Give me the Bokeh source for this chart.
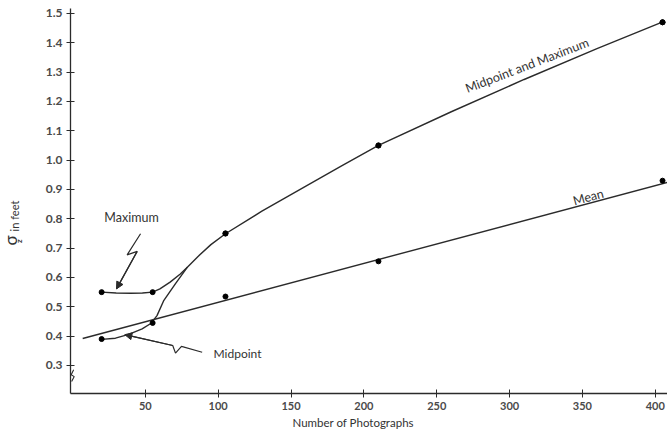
import math
from bokeh.plotting import figure
from bokeh.layouts import row
from bokeh.models import Range1d, Label, Arrow, NormalHead, FixedTicker, CustomJSTickFormatter, Title
from bokeh.core.properties import value
from bokeh.embed import file_html
from bokeh.resources import INLINE

# Measured points
photos = [20, 55, 105, 210, 405]
maximum = [0.55, 0.55, 0.75, 1.05, 1.47]
midpoint = [0.39, 0.445, 0.75, 1.05, 1.47]
mean_photos = [105, 210, 405]
mean_vals = [0.535, 0.655, 0.93]

# Curves
max_curve_x = [20, 30, 40, 48, 55, 60, 67, 74, 79, 86, 95, 105, 130, 159, 185, 210, 260, 310, 360, 406]
max_curve_y = [0.55, 0.547, 0.546, 0.547, 0.55, 0.561, 0.584, 0.612, 0.636, 0.671, 0.712, 0.749,
               0.826, 0.908, 0.981, 1.05, 1.165, 1.275, 1.38, 1.473]
mid_curve_x = [20, 29.5, 38.6, 47.8, 54, 58, 62.5, 70.7, 79]
mid_curve_y = [0.389, 0.393, 0.406, 0.425, 0.444, 0.47, 0.52, 0.579, 0.636]
mean_line_x = [7, 409]
mean_line_y = [0.392, 0.925]

x_ticks = [50, 100, 150, 200, 250, 300, 350, 400]
y_ticks = [0.3, 0.4, 0.5, 0.6, 0.7, 0.8, 0.9, 1.0, 1.1, 1.2, 1.3, 1.4, 1.5]

INK = "#2b2b2b"
FONT = "Lato"
H = 432
TOP = 8
BOTTOM = 39
YR = Range1d(0.2044, 1.517)

p = figure(width=627, height=H, output_backend="svg", toolbar_location=None,
           x_range=Range1d(-1.37, 408.4), y_range=YR,
           min_border_left=30, min_border_right=0, min_border_top=TOP, min_border_bottom=BOTTOM)
p.outline_line_color = None
p.xgrid.grid_line_color = None
p.ygrid.grid_line_color = None

for ax in (p.xaxis[0], p.yaxis[0]):
    ax.axis_line_color = INK
    ax.axis_line_width = 1.3
    ax.major_tick_line_color = INK
    ax.major_tick_in = 4
    ax.major_tick_out = 4
    ax.minor_tick_line_color = None
    ax.major_label_text_color = "#4a4a4a"
    ax.major_label_text_font = FONT
    ax.major_label_text_font_style = "bold"

p.xaxis.ticker = FixedTicker(ticks=x_ticks)
p.yaxis.ticker = FixedTicker(ticks=y_ticks)
p.yaxis.formatter = CustomJSTickFormatter(code="return tick.toFixed(1);")
p.xaxis.major_label_text_font_size = "11px"
p.yaxis.major_label_text_font_size = "12px"
p.xaxis.major_label_standoff = 4
p.yaxis.major_label_standoff = 4

# x axis title (sits left of centre in the original)
p.add_layout(Title(text="Number of Photographs", align="left", offset=222, standoff=2,
                   text_font=FONT, text_font_size="11.5px", text_font_style="normal",
                   text_color="#333333"), "below")

# curves
p.line(max_curve_x, max_curve_y, line_color=INK, line_width=1.4)
p.line(mid_curve_x, mid_curve_y, line_color=INK, line_width=1.4)
p.line(mean_line_x, mean_line_y, line_color=INK, line_width=1.4)

# points
p.scatter(photos, maximum, size=5, color="black")
p.scatter(photos, midpoint, size=5, color="black")
p.scatter(mean_photos, mean_vals, size=5, color="black")

# annotation arrows (zig-zag leaders)
max_arrow_x = [46.7, 37.5, 44.4, 30.2]
max_arrow_y = [0.749, 0.677, 0.689, 0.561]
p.line(max_arrow_x, max_arrow_y, line_color=INK, line_width=1.2)
p.add_layout(Arrow(end=NormalHead(size=7, fill_color=INK, line_color=INK),
                   x_start=max_arrow_x[-2], y_start=max_arrow_y[-2],
                   x_end=max_arrow_x[-1], y_end=max_arrow_y[-1], line_color=INK, line_width=1.2))

mid_arrow_x = [89.0, 74.8, 70.7, 68.8, 35.9]
mid_arrow_y = [0.345, 0.365, 0.342, 0.368, 0.405]
p.line(mid_arrow_x, mid_arrow_y, line_color=INK, line_width=1.2)
p.add_layout(Arrow(end=NormalHead(size=7, fill_color=INK, line_color=INK),
                   x_start=mid_arrow_x[-2], y_start=mid_arrow_y[-2],
                   x_end=mid_arrow_x[-1], y_end=mid_arrow_y[-1], line_color=INK, line_width=1.2))

# axis break mark
p.line([0.8, -0.9, 1.2, -0.6], [0.285, 0.268, 0.262, 0.245], line_color=INK, line_width=1.1)

def lab(x, y, t, size, angle=0.0, align="center", baseline="middle", style="normal"):
    p.add_layout(Label(x=x, y=y, text=t, text_font=FONT, text_font_size=size, angle=angle,
                       text_align=align, text_baseline=baseline, text_color="#333333",
                       text_font_style=style))

lab(40.5, 0.804, "Maximum", "12.5px")
lab(96.8, 0.342, "Midpoint", "12px", align="left")
lab(354, 0.874, "Mean", "12.5px", angle=math.radians(15.5))
lab(312, 1.323, "Midpoint and Maximum", "12.5px", angle=math.radians(21))

# left strip holding the y axis title: sigma with subscript z, "in feet"
lf = figure(width=40, height=H, output_backend="svg", toolbar_location=None,
            x_range=Range1d(0, 40), y_range=YR, x_axis_type=None, y_axis_type=None,
            min_border_left=0, min_border_right=0, min_border_top=TOP, min_border_bottom=BOTTOM)
lf.outline_line_color = None
lf.xgrid.grid_line_color = None
lf.ygrid.grid_line_color = None
lf.text(x=[9.5], y=[0.726], text=["σ"], angle=math.pi / 2, text_font=value(FONT),
        text_font_size="17px", text_align="center", text_baseline="middle", text_color="#333333")
lf.text(x=[18.0], y=[0.724], text=["z"], angle=math.pi / 2, text_font=value(FONT),
        text_font_size="8px", text_font_style="bold", text_align="center", text_baseline="middle",
        text_color="#333333")
lf.text(x=[14.0], y=[0.757], text=["in feet"], angle=math.pi / 2, text_font=value(FONT),
        text_font_size="11px", text_align="left", text_baseline="middle", text_color="#333333")

layout = row(lf, p, spacing=0)
open("out.html", "w").write(file_html(layout, INLINE))
